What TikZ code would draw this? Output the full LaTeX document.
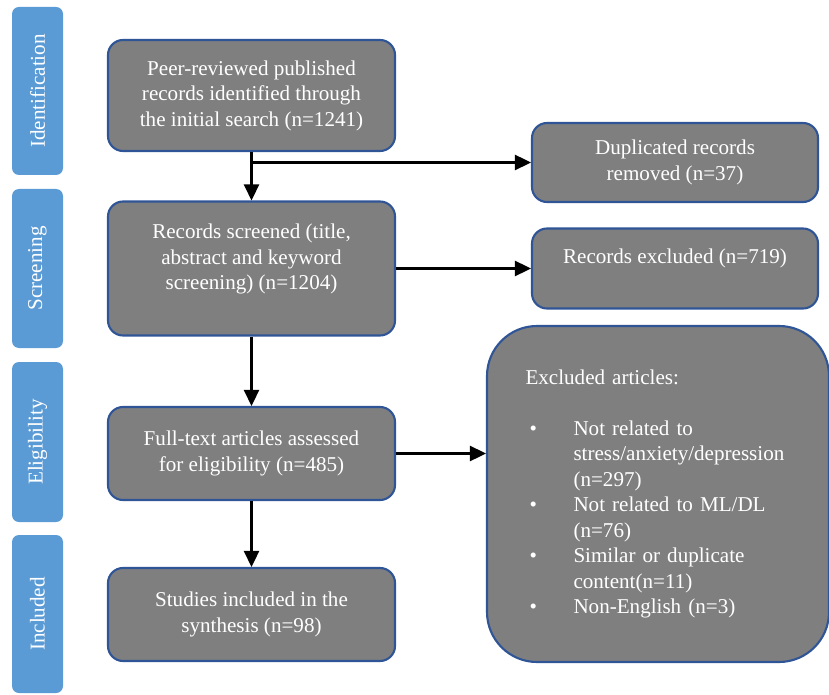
\documentclass[tikz,border=0pt]{standalone}
\usepackage{fontspec}
\setmainfont{Liberation Serif}
\usetikzlibrary{arrows.meta}

\definecolor{boxgray}{HTML}{7F7F7F}
\definecolor{boxborder}{HTML}{2F5597}
\definecolor{phaseblue}{HTML}{5B9BD5}

\tikzset{
  stagebox/.style={draw=boxborder, line width=1.2pt, fill=boxgray, text=white,
    rounded corners=0.3cm, align=center, minimum width=5.74cm,
    font=\fontsize{12}{14.5}\selectfont},
  phasebox/.style={fill=phaseblue, text=white, rounded corners=0.14cm,
    rotate=90, minimum height=1.02cm, font=\fontsize{12}{14.5}\selectfont},
  flow/.style={-{Triangle[length=0.32cm,width=0.3cm]}, line width=1.5pt},
}

\begin{document}
\begin{tikzpicture}
  \useasboundingbox (0,0) rectangle (16.58,13.88);

  \node[phasebox, minimum width=3.36cm] (Identification) at (0.75,12.06) {Identification};
  \node[phasebox, minimum width=3.18cm] (Screening) at (0.75,8.51) {Screening};
  \node[phasebox, minimum width=3.20cm] (Eligibility) at (0.75,5.04) {Eligibility};
  \node[phasebox, minimum width=3.16cm] (IncludedPhase) at (0.75,1.60) {Included};

  \node[stagebox, minimum height=2.22cm] (Identified) at (5.03,11.97)
    {Peer-reviewed published\\records identified through\\the initial search (n=1241)};
  \node[stagebox, minimum height=2.68cm, text depth=0.46cm] (Screened) at (5.03,8.51)
    {Records screened (title,\\abstract and keyword\\screening) (n=1204)};
  \node[stagebox, minimum height=1.86cm] (FullText) at (5.03,4.81)
    {Full-text articles assessed\\for eligibility (n=485)};
  \node[stagebox, minimum height=1.86cm] (Included) at (5.03,1.59)
    {Studies included in the\\synthesis (n=98)};

  \node[stagebox, minimum width=5.72cm, minimum height=1.58cm] (Duplicates) at (13.50,10.63)
    {Duplicated records\\removed (n=37)};
  \node[stagebox, minimum width=5.72cm, minimum height=1.60cm, text depth=0.48cm] (Excluded) at (13.50,8.51)
    {Records excluded (n=719)};
  \node[stagebox, minimum width=6.84cm, minimum height=6.72cm, rounded corners=1cm,
    text width=5.3cm, align=left] (ExcludedArticles) at (13.16,4.0)
    {Excluded articles:\\[14.5pt]
     \hspace*{0.08cm}\makebox[0.88cm][l]{\textbullet}Not related to\\
     \hspace*{0.96cm}stress/anxiety/depression\\
     \hspace*{0.96cm}(n=297)\\
     \hspace*{0.08cm}\makebox[0.88cm][l]{\textbullet}Not related to ML/DL\\
     \hspace*{0.96cm}(n=76)\\
     \hspace*{0.08cm}\makebox[0.88cm][l]{\textbullet}Similar or duplicate\\
     \hspace*{0.96cm}content(n=11)\\
     \hspace*{0.08cm}\makebox[0.88cm][l]{\textbullet}Non-English (n=3)};

  \draw[flow] (Identified) to (Screened);
  \draw[flow] (Screened) to (FullText);
  \draw[flow] (FullText) to (Included);
  \draw[flow] (Identified.south |- Duplicates.west) to (Duplicates.west);
  \draw[flow] (Screened.east) to (Screened.east -| Excluded.west);
  \draw[flow] (FullText.east) to (FullText.east -| ExcludedArticles.west);
\end{tikzpicture}
\end{document}
